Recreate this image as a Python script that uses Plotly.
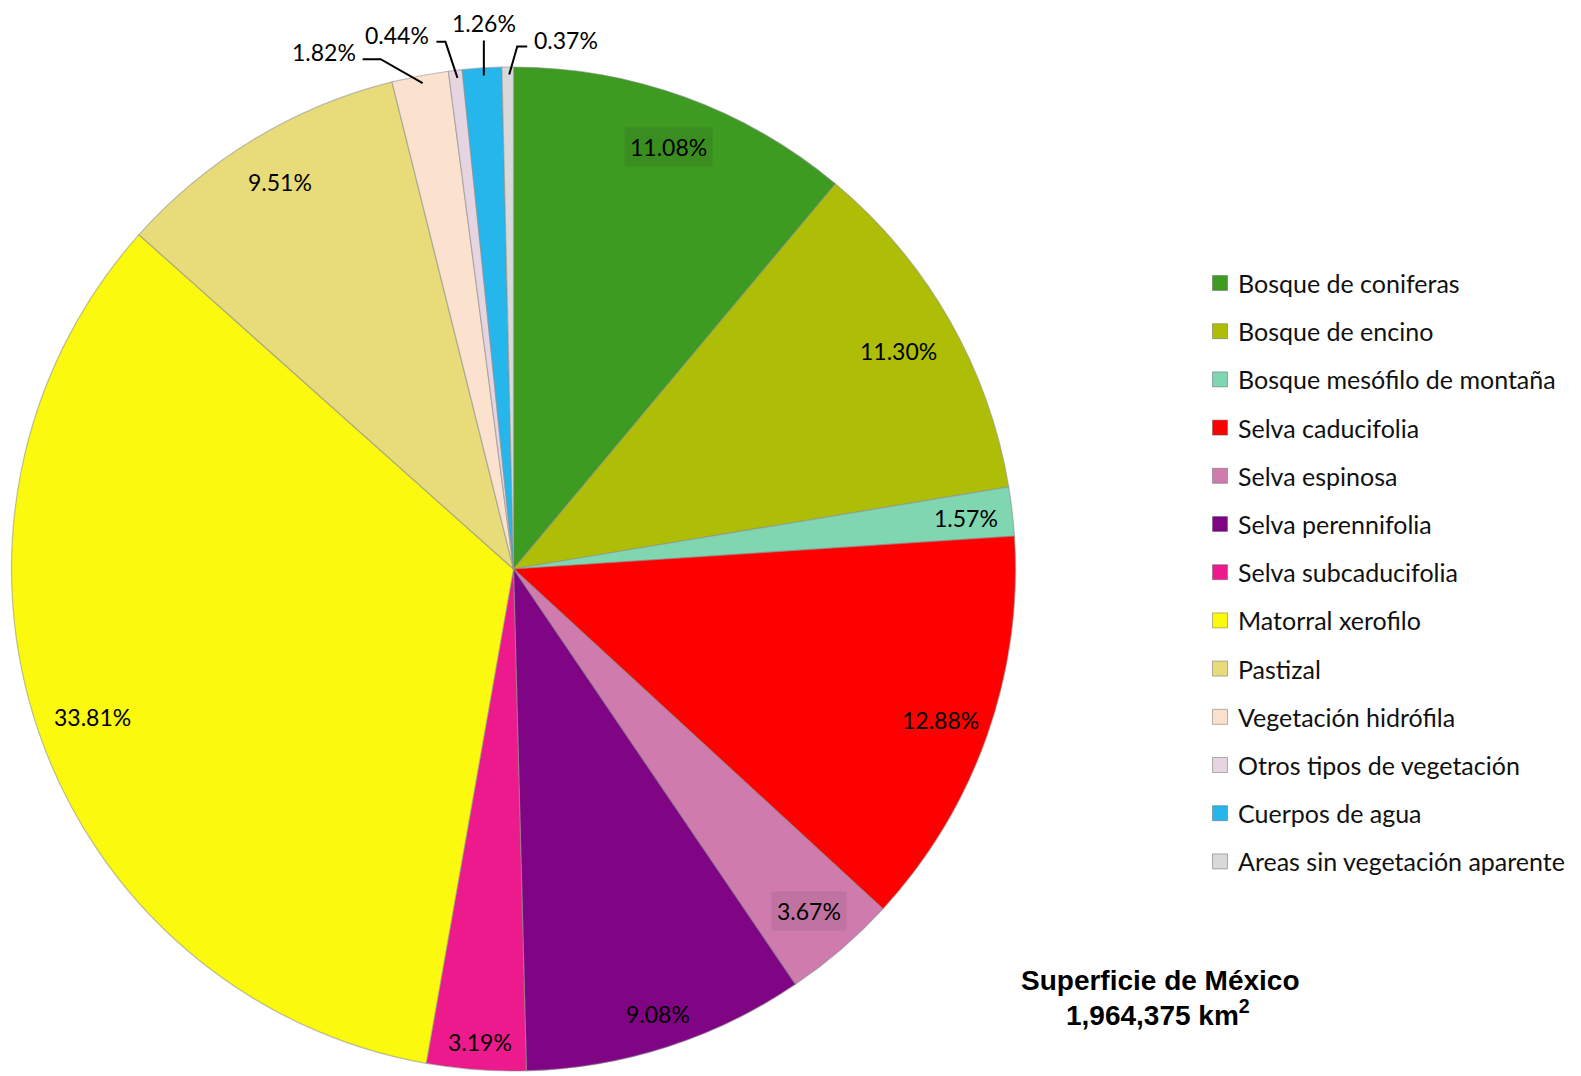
import math
import plotly.graph_objects as go

categories = [
    "Bosque de coniferas", "Bosque de encino", "Bosque mesófilo de montaña",
    "Selva caducifolia", "Selva espinosa", "Selva perennifolia",
    "Selva subcaducifolia", "Matorral xerofilo", "Pastizal",
    "Vegetación hidrófila", "Otros tipos de vegetación", "Cuerpos de agua",
    "Areas sin vegetación aparente",
]
percent_values = [11.08, 11.30, 1.57, 12.88, 3.67, 9.08, 3.19, 33.81, 9.51, 1.82, 0.44, 1.26, 0.37]
colors = ["#3E9B22", "#AEBE06", "#7FD6B0", "#FE0000", "#CF7BAE", "#7F0584",
          "#EC1A8D", "#FBF90E", "#E8DC7A", "#FBE2CF", "#E6D5E1", "#25B6EC", "#D9D9D9"]
title_lines = ["Superficie de México", "1,964,375 km<sup>2</sup>"]

W, H = 1581, 1076
FONT = "Lato"
# pie domain (pixels): plotly insets the drawn disc a little inside it
DCX, DCY, DHALF = 505.5, 561, 502
# geometry used for the labels (drawn disc)
CX, CY, R = 507, 562.5, 498

def px(x):
    return x / W

def py(y):
    return 1 - y / H

inside_rf = [0.904, 0.888, 0.912, 0.905, 0.904, 0.936, 0.95, 0.898, 0.912]
label_box = {0: "rgba(0,0,0,0.08)", 4: "rgba(0,0,0,0.07)"}
# (elbow dx, elbow dy, horizontal run, text anchor)
leaders = {
    9: (-42, -24, -18, "right"),
    10: (-12, -36, -9, "right"),
    11: (0, -35, 0, "center"),
    12: (8, -28, 10, "left"),
}

fig = go.Figure(go.Pie(
    labels=categories,
    values=percent_values,
    sort=False,
    direction="clockwise",
    rotation=0,
    marker=dict(colors=colors, line=dict(color="rgba(140,140,140,0.55)", width=1.2)),
    textinfo="none",
    hovertemplate="%{label}: %{value:.2f}%<extra></extra>",
    domain=dict(x=[px(DCX - DHALF), px(DCX + DHALF)],
                y=[py(DCY + DHALF), py(DCY - DHALF)]),
    showlegend=False,
))

annotations = []
shapes = []
total = sum(percent_values)
cum = 0.0
LBL = 23
for i, v in enumerate(percent_values):
    mid = (cum + v / 2) / total * 2 * math.pi
    cum += v
    s, c = math.sin(mid), math.cos(mid)
    txt = f"{v:.2f}%"
    if i in leaders:
        ex, ey, hx, anchor = leaders[i]
        x0, y0 = CX + (R - 2) * s, CY - (R - 2) * c
        x1, y1 = x0 + ex, y0 + ey
        x2, y2 = x1 + hx, y1
        shapes.append(dict(type="path", xref="paper", yref="paper",
                           path=f"M {px(x0)} {py(y0)} L {px(x1)} {py(y1)} L {px(x2)} {py(y2)}",
                           line=dict(color="black", width=2)))
        if anchor == "center":
            annotations.append(dict(x=px(x2), y=py(y2 - 1), xref="paper", yref="paper",
                                    text=txt, showarrow=False, xanchor="center", yanchor="bottom",
                                    font=dict(family=FONT, size=LBL, color="black")))
        else:
            off = -5 if anchor == "right" else 5
            annotations.append(dict(x=px(x2 + off), y=py(y2 - 7), xref="paper", yref="paper",
                                    text=txt, showarrow=False, xanchor=anchor, yanchor="middle",
                                    font=dict(family=FONT, size=LBL, color="black")))
    else:
        r = inside_rf[i] * R
        lx, ly = CX + r * s, CY - r * c
        ann = dict(x=px(lx), y=py(ly), xref="paper", yref="paper", text=txt,
                   showarrow=False, xanchor="center", yanchor="middle",
                   font=dict(family=FONT, size=LBL, color="black"))
        if i in label_box:
            ann.update(bgcolor=label_box[i], borderpad=5)
        annotations.append(ann)

# manual legend
LX, LY0, LDY, SQ = 1212, 275, 48.2, 15
for i, (name, col) in enumerate(zip(categories, colors)):
    yc = LY0 + LDY * i
    shapes.append(dict(type="rect", xref="paper", yref="paper",
                       x0=px(LX - SQ / 2), x1=px(LX + SQ / 2),
                       y0=py(yc + SQ / 2), y1=py(yc - SQ / 2),
                       fillcolor=col, line=dict(color="rgba(90,90,90,0.45)", width=1)))
    annotations.append(dict(x=px(1228), y=py(yc), xref="paper", yref="paper", text=name,
                            showarrow=False, xanchor="left", yanchor="middle",
                            font=dict(family=FONT, size=25, color="#111111")))

annotations.append(dict(x=px(1152), y=py(972), xref="paper", yref="paper",
                        text="<b>" + title_lines[0] + "</b>",
                        showarrow=False, xanchor="center", yanchor="middle",
                        font=dict(family="Liberation Sans", size=28, color="black")))
annotations.append(dict(x=px(1150), y=py(1005), xref="paper", yref="paper",
                        text="<b>" + title_lines[1] + "</b>",
                        showarrow=False, xanchor="center", yanchor="middle",
                        font=dict(family="Liberation Sans", size=28, color="black")))

fig.update_layout(
    width=W, height=H,
    margin=dict(l=0, r=0, t=0, b=0),
    paper_bgcolor="white", plot_bgcolor="white",
    annotations=annotations, shapes=shapes,
    font=dict(family=FONT),
)

fig.write_html("out.html")
